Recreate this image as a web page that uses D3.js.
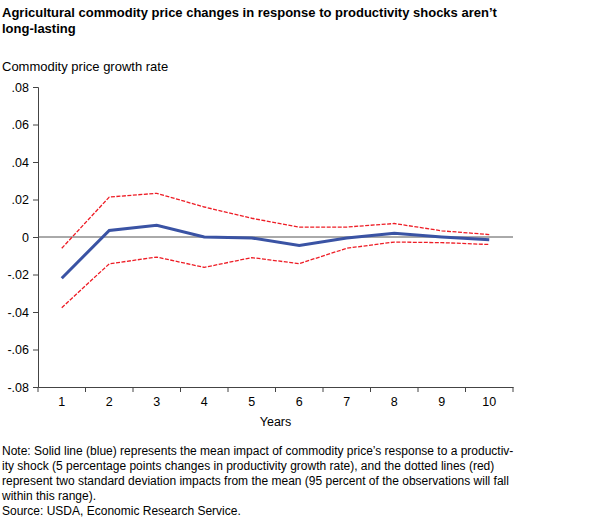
<!DOCTYPE html>
<html lang="en">
<head>
<meta charset="UTF-8" />
<script src="https://d3js.org/d3.v7.min.js"></script>
<style>
  body { margin: 0; background: white; }
  text { font-family: "Liberation Sans", Arial, sans-serif; fill: #000; }
</style>
</head>
<body>
<script>
  const years = ["1", "2", "3", "4", "5", "6", "7", "8", "9", "10"];
  const meanImpact = [-0.022, 0.0035, 0.0062, 0, -0.0005, -0.0045, -0.0005, 0.002, 0, -0.0015];
  const upperBand = [-0.006, 0.0213, 0.0233, 0.016, 0.010, 0.0053, 0.0053, 0.0072, 0.0033, 0.0013];
  const lowerBand = [-0.0377, -0.0143, -0.0107, -0.0162, -0.0110, -0.0142, -0.0060, -0.0027, -0.0030, -0.0040];
  const yTicks = [0.08, 0.06, 0.04, 0.02, 0, -0.02, -0.04, -0.06, -0.08];

  const width = 598, height = 528;
  const svg = d3.select("body").append("svg")
    .attr("width", width).attr("height", height);

  const x = d3.scaleBand().domain(years).range([38, 513]);
  const y = d3.scaleLinear().domain([-0.08, 0.08]).range([387, 87]);
  const fmt = d => d === 0 ? "0" : (d < 0 ? "-" : "") + Math.abs(d).toFixed(2).replace("0.", ".");

  // title
  svg.append("text").attr("x", 2).attr("y", 17)
    .style("font-weight", "bold").style("font-size", "13px")
    .text("Agricultural commodity price changes in response to productivity shocks aren\u2019t");
  svg.append("text").attr("x", 2).attr("y", 33)
    .style("font-weight", "bold").style("font-size", "13px")
    .text("long-lasting");
  svg.append("text").attr("x", 2).attr("y", 71).style("font-size", "13px")
    .text("Commodity price growth rate");

  // axes
  const yAxis = svg.append("g").attr("transform", "translate(38,0)")
    .call(d3.axisLeft(y).tickValues(yTicks).tickFormat(fmt).tickSize(5).tickPadding(4));
  const xAxis = svg.append("g").attr("transform", "translate(0,387)")
    .call(d3.axisBottom(x).tickSize(0).tickPadding(10));
  [yAxis, xAxis].forEach(g => {
    g.selectAll("text").style("font-size", "12.5px").style("font-family", "Liberation Sans, Arial, sans-serif");
    g.selectAll("path,line").attr("stroke", "#444");
  });
  // x ticks at band edges
  svg.selectAll(".xtick").data(years.concat(["end"])).join("line")
    .attr("x1", (d, i) => 38 + i * x.step()).attr("x2", (d, i) => 38 + i * x.step())
    .attr("y1", 387).attr("y2", 392).attr("stroke", "#444");

  // zero line
  svg.append("line").attr("x1", 38).attr("x2", 513)
    .attr("y1", y(0)).attr("y2", y(0)).attr("stroke", "#555").attr("stroke-width", 1);

  const line = d3.line()
    .x((d, i) => x(years[i]) + x.bandwidth() / 2)
    .y(d => y(d));

  [upperBand, lowerBand].forEach(s => {
    svg.append("path").datum(s).attr("d", line)
      .attr("fill", "none").attr("stroke", "#ee1c25")
      .attr("stroke-width", 1.3).attr("stroke-dasharray", "4,1.5");
  });
  svg.append("path").datum(meanImpact).attr("d", line)
    .attr("fill", "none").attr("stroke", "#3a53a4").attr("stroke-width", 3);

  svg.append("text").attr("x", x.range()[0] + (x.range()[1] - x.range()[0]) / 2)
    .attr("y", 426).attr("text-anchor", "middle").style("font-size", "12.5px").text("Years");

  const notes = [
    "Note: Solid line (blue) represents the mean impact of commodity price\u2019s response to a productiv-",
    "ity shock (5 percentage points changes in productivity growth rate), and the dotted lines (red)",
    "represent two standard deviation impacts from the mean (95 percent of the observations will fall",
    "within this range).",
    "Source: USDA, Economic Research Service."
  ];
  svg.selectAll(".note").data(notes).join("text")
    .attr("x", 2).attr("y", (d, i) => 455 + i * 15)
    .style("font-size", "12px").text(d => d);
</script>
</body>
</html>
